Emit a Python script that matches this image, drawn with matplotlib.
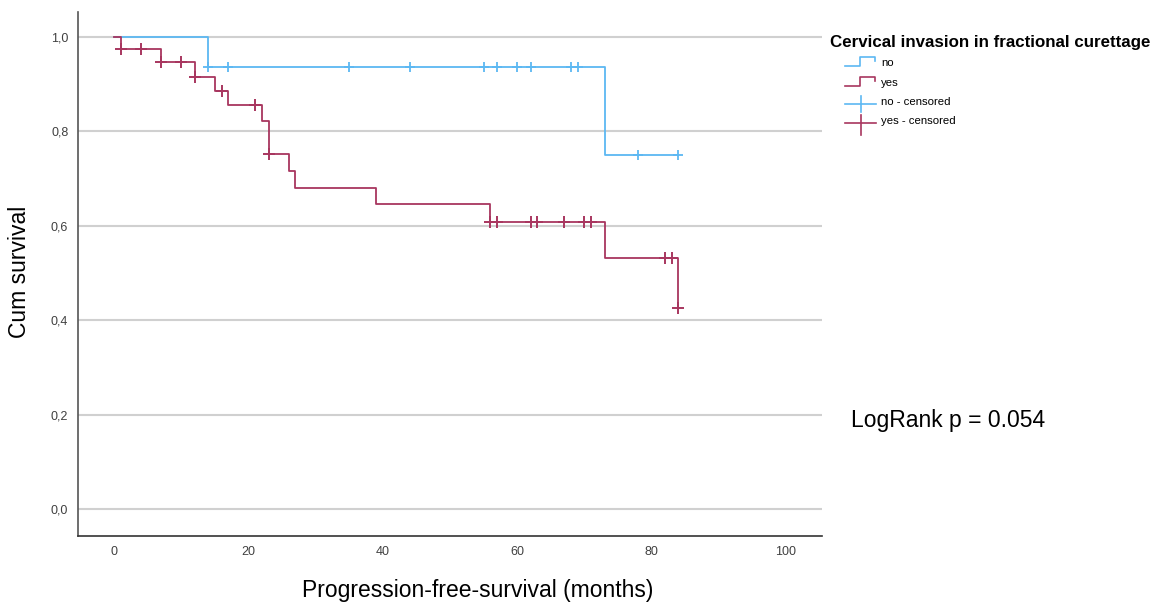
import matplotlib.pyplot as plt
from matplotlib.lines import Line2D

plt.rcParams['font.family'] = ['Liberation Sans', 'DejaVu Sans']

# Kaplan-Meier steps (months, cumulative survival)
noTimes = [0, 14, 73, 84]
noSurv = [1.0, 0.9375, 0.75, 0.75]
noCensTimes = [14, 17, 35, 44, 55, 57, 60, 62, 68, 69, 78, 84]
noCensSurv = [0.9375, 0.9375, 0.9375, 0.9375, 0.9375, 0.9375, 0.9375, 0.9375,
              0.9375, 0.9375, 0.75, 0.75]

yesTimes = [0, 1, 7, 12, 15, 17, 22, 23, 26, 27, 39, 56, 73, 84]
yesSurv = [1.0, 0.974, 0.946, 0.916, 0.886, 0.855, 0.821, 0.752, 0.717, 0.681,
           0.646, 0.607, 0.532, 0.425]
yesCensTimes = [1, 4, 7, 10, 12, 16, 21, 23, 56, 57, 62, 63, 67, 70, 71, 82, 83, 84]
yesCensSurv = [0.974, 0.974, 0.946, 0.946, 0.916, 0.886, 0.855, 0.752, 0.607, 0.607,
               0.607, 0.607, 0.607, 0.607, 0.607, 0.532, 0.532, 0.425]

xTicks = [0, 20, 40, 60, 80, 100]
yTicks = [0.0, 0.2, 0.4, 0.6, 0.8, 1.0]
yTickLabels = ['0,0', '0,2', '0,4', '0,6', '0,8', '1,0']

legendTitle = 'Cervical invasion in fractional curettage'
legendLabels = ['no', 'yes', 'no - censored', 'yes - censored']
pValueText = 'LogRank p = 0.054'

blue = '#5cb8f2'
red = '#a8365f'

W, H = 1166, 610
fig = plt.figure(figsize=(W / 100, H / 100), dpi=100)

# axes placed in pixel terms
left, right, top, bottom = 78, 822, 12, 536
ax = fig.add_axes([left / W, 1 - bottom / H, (right - left) / W, (bottom - top) / H])

ax.step(noTimes, noSurv, where='post', color=blue, lw=1.3, zorder=3)
ax.step(yesTimes, yesSurv, where='post', color=red, lw=1.3, zorder=3)
ax.plot(noCensTimes, noCensSurv, ls='none', marker='+', ms=7, mew=1.3, color=blue, zorder=4)
ax.plot(yesCensTimes, yesCensSurv, ls='none', marker='+', ms=8, mew=1.4, color=red, zorder=4)

ymax = 1 + (37 - top) / 472
ax.set_xlim(-5.36, 105.36)
ax.set_ylim(-0.0572, ymax)
ax.set_xticks(xTicks)
ax.set_yticks(yTicks)
ax.set_yticklabels(yTickLabels)
ax.tick_params(length=0, labelsize=9, labelcolor='#404040')
ax.tick_params(axis='x', pad=7)
ax.tick_params(axis='y', pad=7)

ax.grid(axis='y', color='#d0d0d0', lw=1.5, zorder=0)
ax.set_axisbelow(True)
for s in ['top', 'right']:
    ax.spines[s].set_visible(False)
ax.spines['left'].set_color('#555555')
ax.spines['bottom'].set_color('#333333')
ax.spines['left'].set_linewidth(1.2)
ax.spines['bottom'].set_linewidth(1.2)

ax.set_xlabel('Progression-free-survival (months)', fontsize=16.5, va='center')
ax.xaxis.set_label_coords((478 - left) / (right - left), (bottom - 590) / (bottom - top))
ax.set_ylabel('Cum survival', fontsize=16.5, va='center')
ax.yaxis.set_label_coords((20 - left) / (right - left), (bottom - 272) / (bottom - top))

# overlay in pixel coordinates for the legend and annotation
ov = fig.add_axes([0, 0, 1, 1], zorder=5)
ov.set_xlim(0, W)
ov.set_ylim(H, 0)
ov.axis('off')
ov.patch.set_alpha(0)

ov.text(830, 42, legendTitle, fontsize=12.2, fontweight='bold', va='center', ha='left')

stepHandles = [(66, 57, blue), (86, 77, red)]
for (low, high, c), lab in zip(stepHandles, legendLabels[:2]):
    ov.add_line(Line2D([845, 860, 860, 875, 875], [low, low, high, high, high + 4],
                       color=c, lw=1.2))
    ov.text(881, low - 3, lab, fontsize=8.2, va='center', ha='left')

crossHandles = [(104, 96, 112, blue), (123, 115, 135, red)]
for (yc, y0, y1, c), lab in zip(crossHandles, legendLabels[2:]):
    ov.add_line(Line2D([845, 876], [yc, yc], color=c, lw=1.2))
    ov.add_line(Line2D([861, 861], [y0, y1], color=c, lw=1.2))
    ov.text(881, yc - 2, lab, fontsize=8.2, va='center', ha='left')

ov.text(851, 420, pValueText, fontsize=16.5, va='center', ha='left')

fig.savefig('out.png', dpi=100)
